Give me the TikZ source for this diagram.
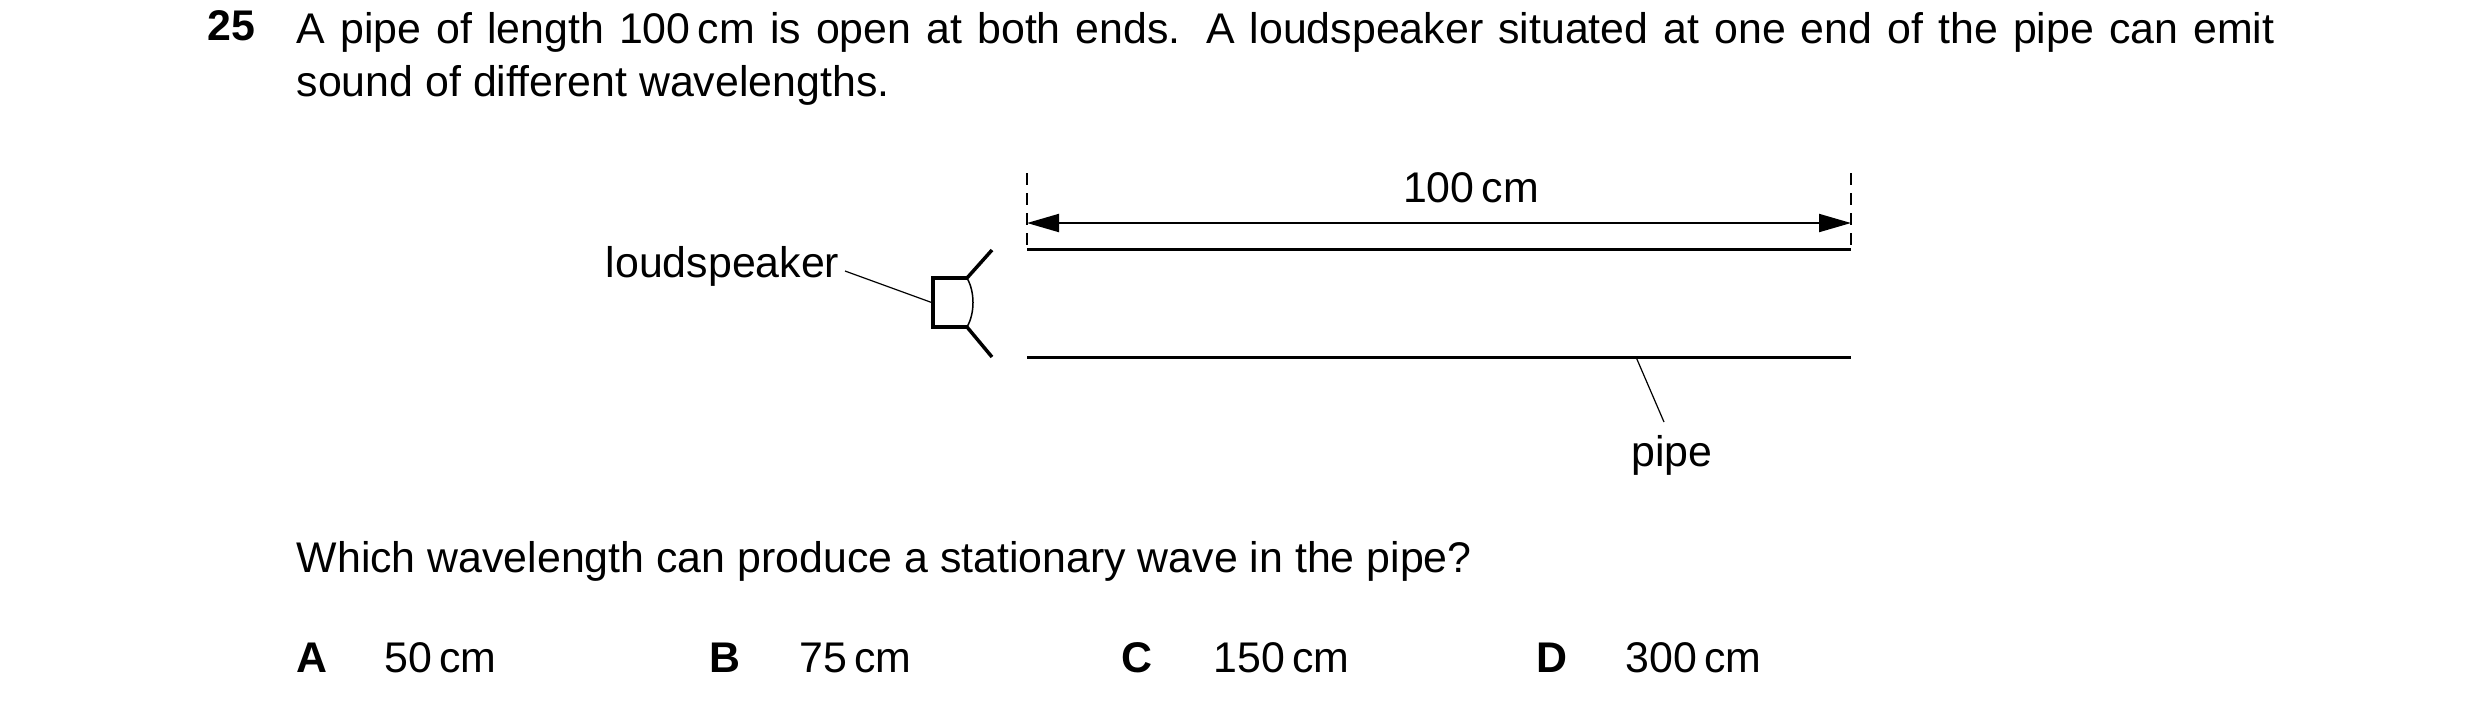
\documentclass[tikz,border=0pt]{standalone}
\usepackage{fontspec}
\setmainfont{Liberation Sans}
\usetikzlibrary{arrows.meta}
\begin{document}
\begin{tikzpicture}[x=0.1mm,y=-0.1mm,
  txt/.style={inner sep=0pt,font=\fontsize{12.2pt}{15pt}\selectfont},
  thick line/.style={line width=0.3mm},
  leader/.style={line width=0.12mm},
  dim/.style={line width=0.2mm,{Triangle[length=3.2mm,width=1.8mm]}-{Triangle[length=3.2mm,width=1.8mm]}},
  ext/.style={line width=0.12mm,dash pattern=on 1.2mm off 0.8mm}]
\useasboundingbox (0,0) rectangle (2480,717);
% question
\node[txt,font=\fontsize{12.2pt}{15pt}\selectfont\bfseries,anchor=base west] (num) at (207,40) {25};
\node[txt,anchor=north west,text width=197.8mm,align=justify] (q) at (296,12) {A pipe of length 100\,cm is open at both ends. A loudspeaker situated at one end of the pipe can emit sound of different wavelengths.};
% pipe
\coordinate (tl) at (1027,249); \coordinate (tr) at (1851,249);
\coordinate (bl) at (1027,357); \coordinate (br) at (1851,357);
\draw[thick line] (tl) -- (tr);
\draw[thick line] (bl) -- (br);
\coordinate (dl) at (1027,173); \coordinate (dr) at (1851,173);
\draw[ext] (dl) -- (tl);
\draw[ext] (dr) -- (tr);
\coordinate (al) at (1027,223); \coordinate (ar) at (1851,223);
\draw[dim] (al) -- (ar);
\node[txt] (len) at (1471,188) {100\,cm};
% loudspeaker
\coordinate (s1) at (933,278); \coordinate (s2) at (967,278);
\coordinate (s3) at (967,327); \coordinate (s4) at (933,327);
\draw[line width=0.35mm] (s2) -- (s1) -- (s4) -- (s3);
\draw[line width=0.15mm] (s2) .. controls (975,292) and (975,313) .. (s3);
\draw[line width=0.35mm] (s2) -- (992,250);
\draw[line width=0.35mm] (s3) -- (992,357);
\node[txt,anchor=base east] (ls) at (840,277) {loudspeaker};
\coordinate (lsend) at (933,303);
\draw[leader] (845,271) -- (lsend);
% pipe label
\node[txt] (pl) at (1672,455) {pipe};
\coordinate (pa) at (1636,357); \coordinate (pb) at (1664,422);
\draw[leader] (pa) -- (pb);
% question 2
\node[txt,anchor=base west] (w) at (296,572) {Which wavelength can produce a stationary wave in the pipe?};
\foreach \L/\x/\v/\t in {A/312/384/50, B/725/799/75, C/1137/1213/150, D/1552/1625/300}{
  \node[txt,font=\fontsize{12.2pt}{15pt}\selectfont\bfseries,anchor=base] (opt\L) at (\x,672) {\L};
  \node[txt,anchor=base west] (val\L) at (\v,672) {\t\,cm};
}
\end{tikzpicture}
\end{document}
